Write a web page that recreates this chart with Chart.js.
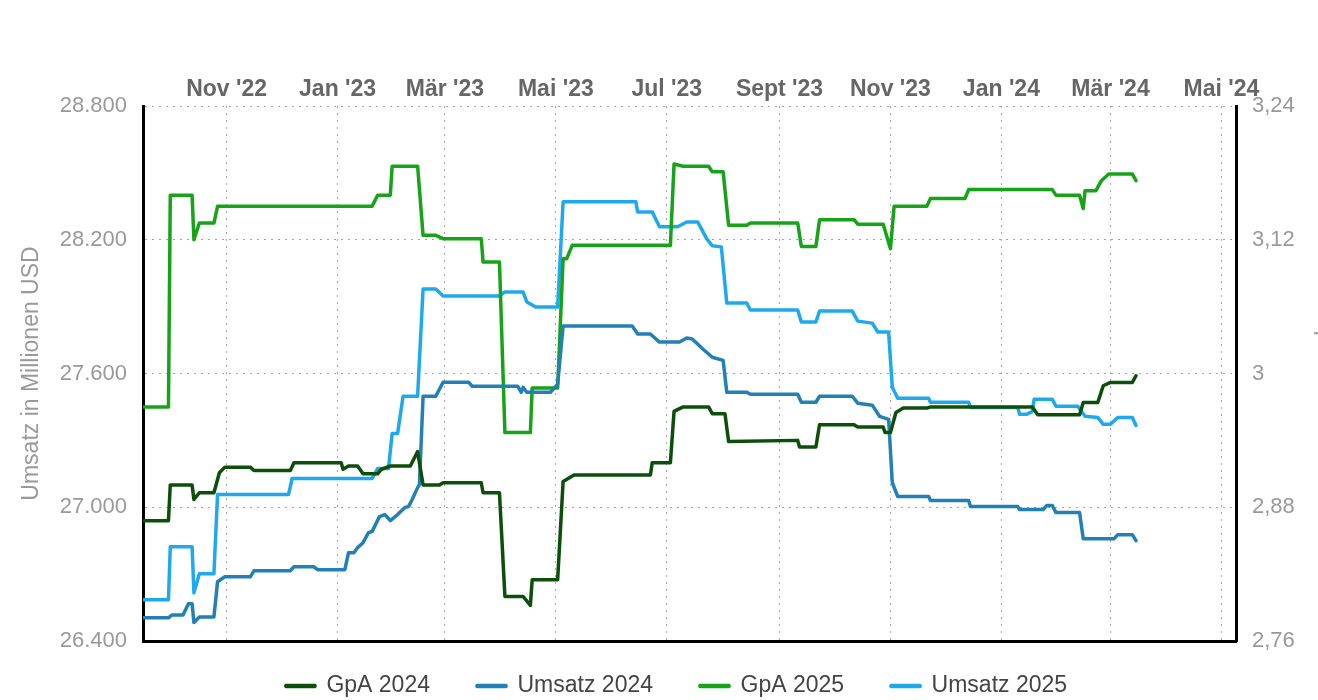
<!DOCTYPE html>
<html lang="de">
<head>
<meta charset="utf-8">
<title>GpA und Umsatz Schätzungen</title>
<script src="https://cdn.jsdelivr.net/npm/chart.js@4.4.1/dist/chart.umd.min.js"></script>
<style>
  html, body { margin: 0; padding: 0; background: #fff; overflow: hidden; }
  #wrap { width: 1353px; height: 700px; }
</style>
</head>
<body>
<div id="wrap"><canvas id="chart" width="1353" height="700"></canvas></div>
<script>
// Month ticks on the top axis
const tickDates = ['2022-11-01', '2023-01-01', '2023-03-01', '2023-05-01', '2023-07-01',
  '2023-09-01', '2023-11-01', '2024-01-01', '2024-03-01', '2024-05-01'];
const tickLabels = ["Nov '22", "Jan '23", "Mär '23", "Mai '23", "Jul '23",
  "Sept '23", "Nov '23", "Jan '24", "Mär '24", "Mai '24"];

// Left axis (Umsatz, Mio USD) and right axis (GpA, USD)
const leftTickValues = [26400, 27000, 27600, 28200, 28800];
const leftTickLabels = ['26.400', '27.000', '27.600', '28.200', '28.800'];
const rightTickValues = [2.76, 2.88, 3.00, 3.12, 3.24];
const rightTickLabels = ['2,76', '2,88', '3', '3,12', '3,24'];

// GpA 2024
const gpa2024Dates = [
  '2022-09-16', '2022-09-30', '2022-10-01', '2022-10-13', '2022-10-14', '2022-10-17', '2022-10-25', '2022-10-28',
  '2022-10-31', '2022-11-14', '2022-11-16', '2022-12-06', '2022-12-08', '2023-01-03', '2023-01-04', '2023-01-07',
  '2023-01-12', '2023-01-15', '2023-01-23', '2023-01-25', '2023-01-30', '2023-02-10', '2023-02-14', '2023-02-17',
  '2023-02-26', '2023-02-28', '2023-03-21', '2023-03-22', '2023-03-31', '2023-04-03', '2023-04-13', '2023-04-17',
  '2023-04-18', '2023-05-02', '2023-05-05', '2023-05-11', '2023-06-22', '2023-06-23', '2023-07-03', '2023-07-05',
  '2023-07-10', '2023-07-24', '2023-07-26', '2023-08-02', '2023-08-04', '2023-09-11', '2023-09-12', '2023-09-21',
  '2023-09-23', '2023-10-12', '2023-10-14', '2023-10-28', '2023-10-29', '2023-11-01', '2023-11-04', '2023-11-08',
  '2023-11-21', '2023-11-23', '2024-01-18', '2024-01-21', '2024-02-13', '2024-02-15', '2024-02-23', '2024-02-26',
  '2024-03-01', '2024-03-13', '2024-03-15'
];
const gpa2024Values = [
  2.868, 2.868, 2.900, 2.900, 2.887, 2.893, 2.893, 2.911,
  2.916, 2.916, 2.913, 2.913, 2.920, 2.920, 2.914, 2.917,
  2.917, 2.910, 2.910, 2.914, 2.917, 2.917, 2.930, 2.900,
  2.900, 2.902, 2.902, 2.893, 2.893, 2.800, 2.800, 2.792,
  2.815, 2.815, 2.903, 2.909, 2.909, 2.920, 2.920, 2.966,
  2.970, 2.970, 2.964, 2.964, 2.939, 2.940, 2.934, 2.934,
  2.954, 2.954, 2.952, 2.952, 2.947, 2.947, 2.965, 2.969,
  2.969, 2.970, 2.970, 2.963, 2.963, 2.974, 2.974, 2.989,
  2.992, 2.992, 2.998
];

// Umsatz 2024
const umsatz2024Dates = [
  '2022-09-16', '2022-09-30', '2022-10-02', '2022-10-08', '2022-10-11', '2022-10-13', '2022-10-14', '2022-10-17',
  '2022-10-25', '2022-10-27', '2022-10-31', '2022-11-14', '2022-11-16', '2022-12-06', '2022-12-08', '2022-12-19',
  '2022-12-21', '2023-01-05', '2023-01-07', '2023-01-10', '2023-01-12', '2023-01-15', '2023-01-18', '2023-01-20',
  '2023-01-24', '2023-01-27', '2023-01-30', '2023-02-03', '2023-02-07', '2023-02-09', '2023-02-11', '2023-02-14',
  '2023-02-15', '2023-02-17', '2023-02-24', '2023-02-28', '2023-03-14', '2023-03-16', '2023-04-10', '2023-04-12',
  '2023-04-13', '2023-04-15', '2023-04-28', '2023-05-02', '2023-05-05', '2023-06-12', '2023-06-15', '2023-06-22',
  '2023-06-27', '2023-07-08', '2023-07-12', '2023-07-15', '2023-07-21', '2023-07-26', '2023-08-01', '2023-08-03',
  '2023-08-14', '2023-08-16', '2023-09-11', '2023-09-13', '2023-09-21', '2023-09-23', '2023-10-11', '2023-10-14',
  '2023-10-22', '2023-10-26', '2023-10-31', '2023-11-02', '2023-11-05', '2023-11-22', '2023-11-23', '2023-12-14',
  '2023-12-15', '2024-01-10', '2024-01-11', '2024-01-24', '2024-01-26', '2024-01-29', '2024-01-31', '2024-02-13',
  '2024-02-15', '2024-03-03', '2024-03-05', '2024-03-13', '2024-03-15'
];
const umsatz2024Values = [
  26504, 26504, 26517, 26517, 26567, 26567, 26483, 26508,
  26508, 26666, 26688, 26688, 26715, 26715, 26733, 26733,
  26720, 26720, 26796, 26796, 26819, 26841, 26886, 26891,
  26958, 26967, 26940, 26967, 26999, 27003, 27035, 27088,
  27102, 27498, 27498, 27561, 27561, 27543, 27543, 27516,
  27538, 27516, 27516, 27552, 27813, 27813, 27777, 27777,
  27741, 27741, 27759, 27755, 27709, 27673, 27659, 27516,
  27516, 27507, 27507, 27471, 27471, 27498, 27498, 27467,
  27458, 27408, 27394, 27111, 27048, 27048, 27030, 27030,
  27003, 27003, 26990, 26990, 27008, 27008, 26976, 26976,
  26859, 26859, 26877, 26877, 26850
];

// GpA 2025
const gpa2025Dates = [
  '2022-09-16', '2022-09-30', '2022-10-01', '2022-10-13', '2022-10-14', '2022-10-17', '2022-10-25', '2022-10-27',
  '2023-01-20', '2023-01-23', '2023-01-30', '2023-01-31', '2023-02-14', '2023-02-17', '2023-02-24', '2023-02-28',
  '2023-03-21', '2023-03-22', '2023-03-31', '2023-04-03', '2023-04-17', '2023-04-18', '2023-05-02', '2023-05-05',
  '2023-05-07', '2023-05-10', '2023-07-03', '2023-07-05', '2023-07-10', '2023-07-24', '2023-07-26', '2023-08-01',
  '2023-08-04', '2023-08-14', '2023-08-16', '2023-09-11', '2023-09-13', '2023-09-21', '2023-09-23', '2023-10-12',
  '2023-10-14', '2023-10-28', '2023-11-01', '2023-11-03', '2023-11-21', '2023-11-23', '2023-12-12', '2023-12-14',
  '2024-01-29', '2024-01-31', '2024-02-13', '2024-02-15', '2024-02-16', '2024-02-22', '2024-02-25', '2024-02-29',
  '2024-03-13', '2024-03-15'
];
const gpa2025Values = [
  2.970, 2.970, 3.160, 3.160, 3.120, 3.135, 3.135, 3.150,
  3.150, 3.160, 3.160, 3.186, 3.186, 3.124, 3.124, 3.121,
  3.121, 3.100, 3.100, 2.947, 2.947, 2.987, 2.987, 3.103,
  3.103, 3.115, 3.115, 3.188, 3.186, 3.186, 3.181, 3.181,
  3.133, 3.133, 3.135, 3.135, 3.114, 3.114, 3.138, 3.138,
  3.134, 3.134, 3.112, 3.150, 3.150, 3.157, 3.157, 3.165,
  3.165, 3.160, 3.160, 3.148, 3.164, 3.164, 3.173, 3.179,
  3.179, 3.173
];

// Umsatz 2025
const umsatz2025Dates = [
  '2022-09-16', '2022-09-30', '2022-10-01', '2022-10-13', '2022-10-14', '2022-10-17', '2022-10-25', '2022-10-27',
  '2022-12-05', '2022-12-07', '2023-01-20', '2023-01-23', '2023-01-29', '2023-01-31', '2023-02-03', '2023-02-06',
  '2023-02-14', '2023-02-17', '2023-02-24', '2023-02-28', '2023-03-31', '2023-04-03', '2023-04-13', '2023-04-15',
  '2023-04-20', '2023-05-02', '2023-05-05', '2023-06-14', '2023-06-15', '2023-06-23', '2023-06-27', '2023-07-07',
  '2023-07-12', '2023-07-18', '2023-07-23', '2023-07-26', '2023-07-31', '2023-08-03', '2023-08-14', '2023-08-16',
  '2023-09-11', '2023-09-13', '2023-09-21', '2023-09-23', '2023-10-11', '2023-10-14', '2023-10-22', '2023-10-25',
  '2023-10-31', '2023-11-02', '2023-11-05', '2023-11-22', '2023-11-23', '2023-12-14', '2023-12-15', '2024-01-10',
  '2024-01-11', '2024-01-15', '2024-01-18', '2024-01-19', '2024-01-29', '2024-01-31', '2024-02-12', '2024-02-16',
  '2024-02-23', '2024-02-26', '2024-03-01', '2024-03-05', '2024-03-13', '2024-03-15'
];
const umsatz2025Values = [
  26585, 26585, 26823, 26823, 26616, 26702, 26702, 27057,
  27057, 27129, 27129, 27174, 27174, 27331, 27331, 27498,
  27498, 27979, 27979, 27948, 27948, 27966, 27966, 27921,
  27898, 27898, 28370, 28370, 28325, 28325, 28258, 28258,
  28280, 28280, 28204, 28173, 28168, 27916, 27916, 27885,
  27885, 27831, 27831, 27880, 27880, 27835, 27826, 27786,
  27786, 27538, 27489, 27489, 27471, 27471, 27448, 27448,
  27417, 27417, 27430, 27484, 27484, 27453, 27453, 27408,
  27403, 27372, 27372, 27403, 27403, 27367
];

const xStart = '2022-09-16';
const xEnd = '2024-05-09';

// dates -> day numbers for the linear x scale
const toDay = s => Date.UTC(+s.slice(0, 4), +s.slice(5, 7) - 1, +s.slice(8, 10)) / 86400000;
const toPoints = (dates, values) => dates.map((d, i) => ({ x: toDay(d), y: values[i] }));

const fontFamily = '"Liberation Sans", Arial, Helvetica, sans-serif';
const gridColor = '#a6a6a6';
const dots = [2, 5];

const line = (label, dates, values, color, axis) => ({
  label: label,
  data: toPoints(dates, values),
  yAxisID: axis,
  borderColor: color,
  backgroundColor: color,
  borderWidth: 3.5,
  pointRadius: 0,
  pointHoverRadius: 0,
  tension: 0,
  borderJoinStyle: 'round',
  borderCapStyle: 'round'
});

// legend is drawn a bit higher than its layout box so its row spacing can stay wide
const legendOffset = {
  id: 'legendOffset',
  afterLayout(chart) {
    const lg = chart.legend;
    lg.top -= 27.5;
    lg.bottom = chart.height;
  }
};

const ctx = document.getElementById('chart').getContext('2d');
const chart = new Chart(ctx, {
  type: 'line',
  data: {
    datasets: [
      line('GpA 2024', gpa2024Dates, gpa2024Values, '#0b4f0b', 'y1'),
      line('Umsatz 2024', umsatz2024Dates, umsatz2024Values, '#2280b6', 'y'),
      line('GpA 2025', gpa2025Dates, gpa2025Values, '#17a317', 'y1'),
      line('Umsatz 2025', umsatz2025Dates, umsatz2025Values, '#1ea9ef', 'y')
    ]
  },
  options: {
    responsive: false,
    animation: false,
    devicePixelRatio: 1,
    layout: { padding: 0 },
    plugins: {
      title: { display: false },
      tooltip: { enabled: false },
      legend: {
        position: 'bottom',
        maxHeight: 45,
        labels: {
          boxWidth: 29,
          boxHeight: 1,
          padding: 47,
          color: '#444',
          font: { family: fontFamily, size: 23 }
        }
      }
    },
    scales: {
      x: {
        type: 'linear',
        position: 'top',
        min: toDay(xStart),
        max: toDay(xEnd),
        afterBuildTicks: s => { s.ticks = tickDates.map(d => ({ value: toDay(d) })); },
        afterFit: s => { s.height = 106; },
        ticks: {
          autoSkip: false,
          maxRotation: 0,
          padding: 3,
          color: '#666',
          font: { family: fontFamily, size: 23, weight: 'bold' },
          callback: (v, i) => tickLabels[i]
        },
        grid: { color: gridColor, lineWidth: 1, drawTicks: false },
        border: { display: false, dash: dots }
      },
      x2: {
        type: 'linear',
        position: 'bottom',
        min: toDay(xStart),
        max: toDay(xEnd),
        afterFit: s => { s.height = 14; },
        ticks: { display: false },
        grid: { display: false, drawTicks: false },
        border: { display: true, color: '#000', width: 3 }
      },
      y: {
        position: 'left',
        min: 26400,
        max: 28800,
        afterBuildTicks: s => { s.ticks = leftTickValues.map(v => ({ value: v })); },
        afterFit: s => { s.width = 143; },
        ticks: {
          padding: 16,
          color: '#999',
          font: { family: fontFamily, size: 22 },
          callback: (v, i) => leftTickLabels[i]
        },
        grid: { color: gridColor, lineWidth: 1, drawTicks: false },
        border: { display: true, color: '#000', width: 3, dash: dots },
        title: {
          display: true,
          text: 'Umsatz in Millionen USD',
          color: '#999',
          padding: { top: 18, bottom: 0 },
          font: { family: fontFamily, size: 23 }
        }
      },
      y1: {
        position: 'right',
        min: 2.76,
        max: 3.24,
        afterBuildTicks: s => { s.ticks = rightTickValues.map(v => ({ value: v })); },
        afterFit: s => { s.width = 117; },
        ticks: {
          padding: 16,
          color: '#999',
          font: { family: fontFamily, size: 22 },
          callback: (v, i) => rightTickLabels[i]
        },
        grid: { drawOnChartArea: false, drawTicks: false },
        border: { display: true, color: '#000', width: 3 },
        title: {
          display: true,
          text: 'Gewinn pro Aktie in USD',
          color: '#999',
          padding: { top: 14, bottom: 0 },
          font: { family: fontFamily, size: 23 }
        }
      }
    }
  },
  plugins: [legendOffset]
});
</script>
</body>
</html>
